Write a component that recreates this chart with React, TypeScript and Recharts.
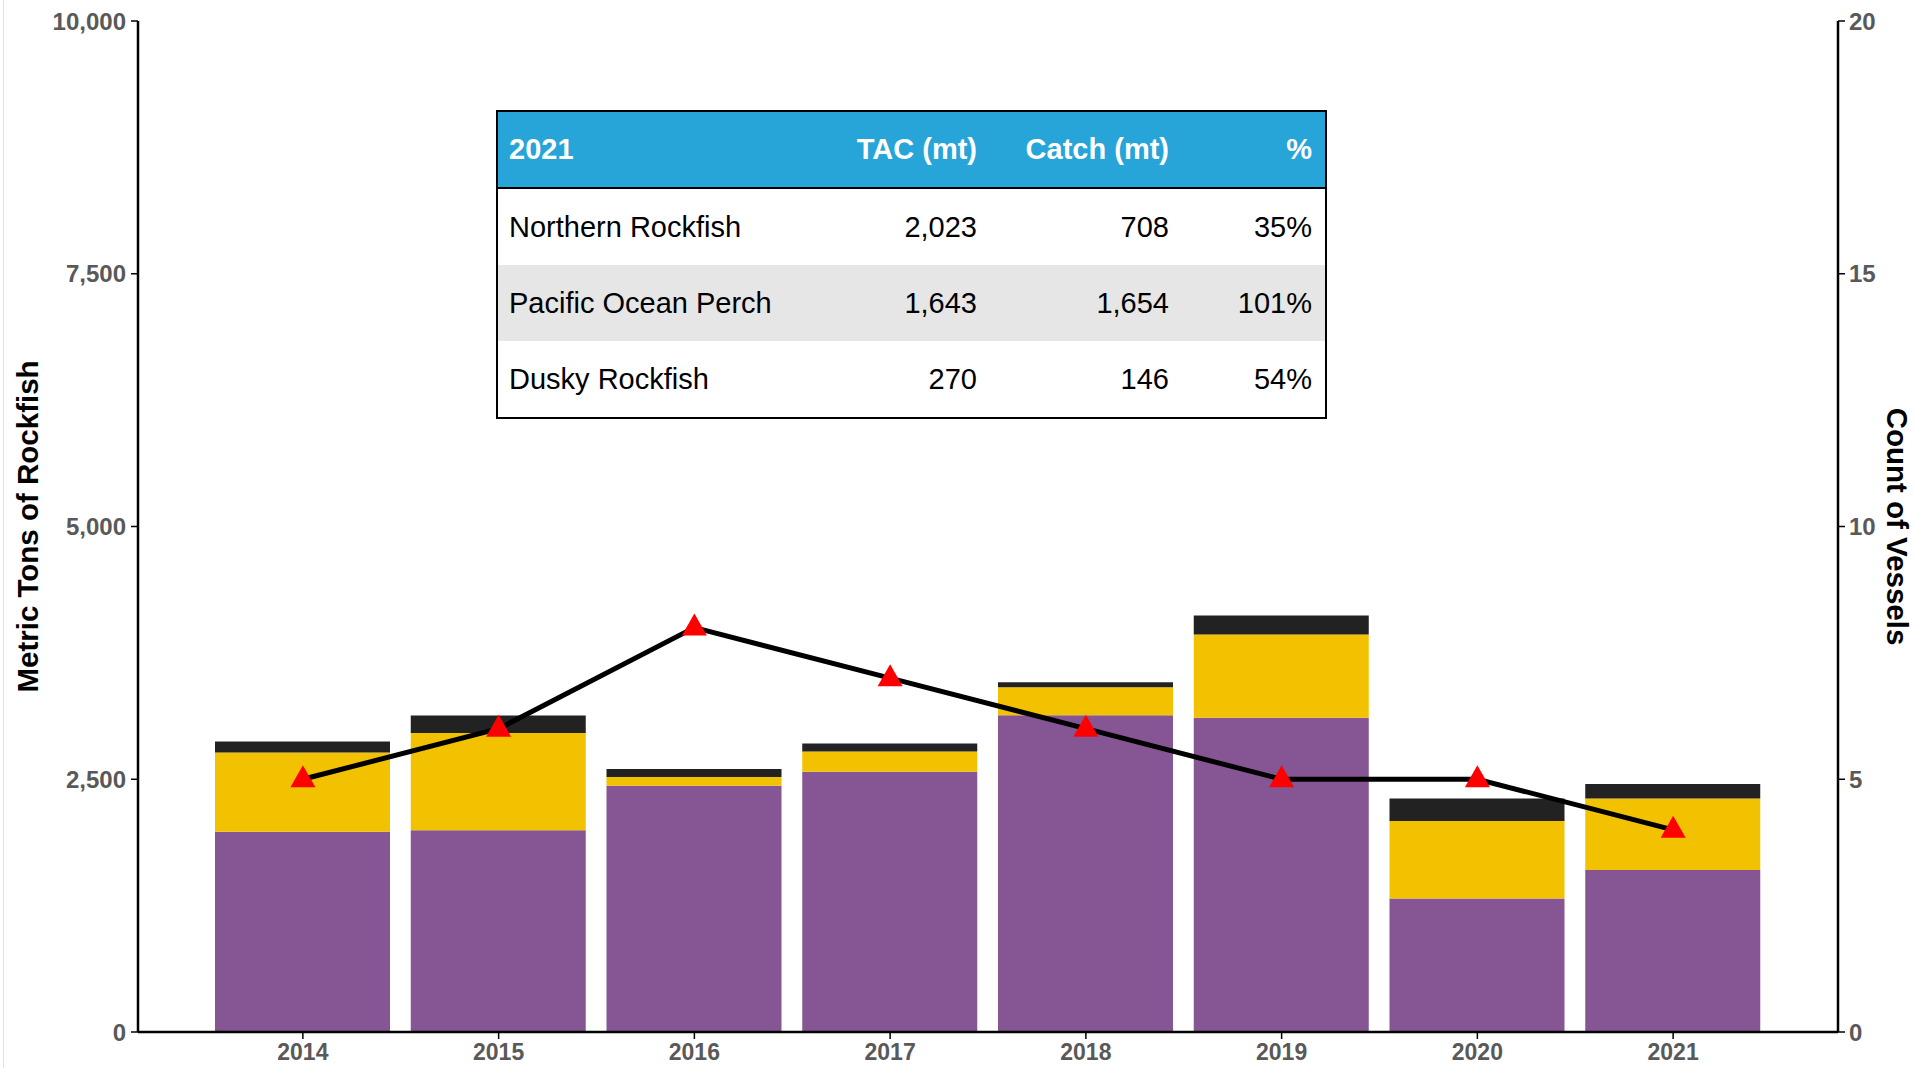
import { Bar, ComposedChart, Line, XAxis, YAxis } from "recharts";

const years = ["2014", "2015", "2016", "2017", "2018", "2019", "2020", "2021"];
const pacificOceanPerch = [1980, 1995, 2436, 2574, 3134, 3108, 1320, 1603];
const northernRockfish = [785, 962, 86, 201, 277, 823, 767, 707];
const duskyRockfish = [108, 173, 79, 79, 49, 188, 223, 143];
const vesselCount = [5, 6, 8, 7, 6, 5, 5, 4];

const leftTicks = [0, 2500, 5000, 7500, 10000];
const rightTicks = [0, 5, 10, 15, 20];

const tableHeader = ["2021", "TAC (mt)", "Catch (mt)", "%"];
const tableSpecies = ["Northern Rockfish", "Pacific Ocean Perch", "Dusky Rockfish"];
const tableTac = [2023, 1643, 270];
const tableCatch = [708, 1654, 146];
const tablePercent = [35, 101, 54];

const font = "'Liberation Sans', Arial, sans-serif";
const tickStyle = { fill: "#595959", fontSize: 23, fontWeight: 700, fontFamily: font };
const leftTickStyle = { ...tickStyle, fontSize: 24 };

const data = years.map((year, i) => ({
  year,
  pop: pacificOceanPerch[i],
  northern: northernRockfish[i],
  dusky: duskyRockfish[i],
  vessels: vesselCount[i],
}));

function Triangle(props: any) {
  const { cx, cy, index } = props;
  if (cx == null || cy == null) return null;
  return <path key={`tri-${index}`} d={`M${cx},${cy - 14} L${cx + 12.5},${cy + 8} L${cx - 12.5},${cy + 8} Z`} fill="#ff0000" />;
}

function LeftTitle({ viewBox }: any) {
  const cy = viewBox.y + viewBox.height / 2;
  return (
    <text x={27} y={cy} transform={`rotate(-90 27 ${cy})`} textAnchor="middle" dominantBaseline="central" fontFamily={font} fontWeight={700} fontSize={29.5} fill="#000">
      Metric Tons of Rockfish
    </text>
  );
}

function RightTitle({ viewBox }: any) {
  const cy = viewBox.y + viewBox.height / 2;
  const x = 1897;
  return (
    <text x={x} y={cy} transform={`rotate(90 ${x} ${cy})`} textAnchor="middle" dominantBaseline="central" fontFamily={font} fontWeight={700} fontSize={29.5} fill="#000">
      Count of Vessels
    </text>
  );
}

const colWidths = [334, 158, 192, 143];

function CatchTable() {
  const cell = (text: string | number, col: number, bold = false, color = "#000") => (
    <div
      key={col}
      style={{
        width: colWidths[col],
        boxSizing: "border-box",
        padding: col === 0 ? "0 0 0 11px" : "0 13px 0 0",
        textAlign: col === 0 ? "left" : "right",
        fontWeight: bold ? 700 : 400,
        color,
        whiteSpace: "nowrap",
      }}
    >
      {text}
    </div>
  );
  const row = (cells: (string | number)[], bg: string, height: number, header = false) => (
    <div style={{ display: "flex", alignItems: "center", height, background: bg, borderBottom: header ? "2px solid #000" : undefined }}>
      {cells.map((c, i) => cell(c, i, header, header ? "#fff" : "#000"))}
    </div>
  );
  return (
    <div style={{ position: "absolute", left: 496, top: 110, width: 831, border: "2px solid #000", boxSizing: "border-box", fontFamily: font, fontSize: 29, background: "#fff" }}>
      {row(tableHeader, "#27a4d8", 75, true)}
      {tableSpecies.map((name, i) =>
        <div key={name}>{row([name, tableTac[i].toLocaleString("en-US"), tableCatch[i].toLocaleString("en-US"), `${tablePercent[i]}%`], i === 1 ? "#e6e6e6" : "#fff", 76)}</div>
      )}
    </div>
  );
}

export default function App() {
  return (
    <div style={{ position: "absolute", left: 0, top: 0, width: 1915, height: 1068, background: "#fff" }}>
      <div style={{ position: "absolute", left: 3, top: 0, width: 1, height: 1068, background: "#dde3e8" }} />
      <ComposedChart width={1915} height={1068} data={data} margin={{ top: 21, right: 0, left: 0, bottom: 0 }}>
        <XAxis
          dataKey="year"
          height={36}
          padding={{ left: 67, right: 67 }}
          tick={tickStyle}
          tickSize={7}
          tickMargin={5}
          axisLine={{ stroke: "#000", strokeWidth: 2.5 }}
          tickLine={{ stroke: "#000", strokeWidth: 1.5 }}
        />
        <YAxis
          yAxisId="left"
          width={138}
          domain={[0, 10000]}
          ticks={leftTicks}
          interval={0}
          tickFormatter={(v: number) => v.toLocaleString("en-US")}
          tick={leftTickStyle}
          tickSize={7}
          tickMargin={5}
          axisLine={{ stroke: "#000", strokeWidth: 2.5 }}
          tickLine={{ stroke: "#000", strokeWidth: 1.5 }}
          label={<LeftTitle />}
        />
        <YAxis
          yAxisId="right"
          orientation="right"
          width={77}
          domain={[0, 20]}
          ticks={rightTicks}
          interval={0}
          tick={leftTickStyle}
          tickSize={7}
          tickMargin={4}
          axisLine={{ stroke: "#000", strokeWidth: 2.5 }}
          tickLine={{ stroke: "#000", strokeWidth: 1.5 }}
          label={<RightTitle />}
        />
        <Bar yAxisId="left" dataKey="pop" stackId="a" fill="#865593" barSize={175} isAnimationActive={false} />
        <Bar yAxisId="left" dataKey="northern" stackId="a" fill="#f2c200" barSize={175} isAnimationActive={false} />
        <Bar yAxisId="left" dataKey="dusky" stackId="a" fill="#222222" barSize={175} isAnimationActive={false} />
        <Line yAxisId="right" dataKey="vessels" stroke="#000" strokeWidth={5} dot={<Triangle />} activeDot={false} isAnimationActive={false} />
      </ComposedChart>
      <CatchTable />
    </div>
  );
}
